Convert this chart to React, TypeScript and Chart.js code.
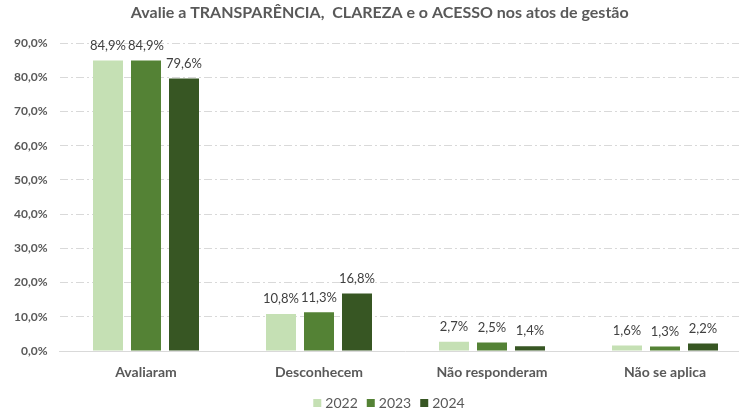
import React, { useEffect, useRef } from "react";
import { Chart, registerables } from "chart.js";

Chart.register(...registerables);

const categories = ["Avaliaram", "Desconhecem", "Não responderam", "Não se aplica"];
const years = ["2022", "2023", "2024"];
const values2022 = [84.9, 10.8, 2.7, 1.6];
const values2023 = [84.9, 11.3, 2.5, 1.3];
const values2024 = [79.6, 16.8, 1.4, 2.2];
const colors = ["#C5E0B4", "#548235", "#375623"];
const yTicks = [0, 10, 20, 30, 40, 50, 60, 70, 80, 90];
const titleText = "Avalie a TRANSPARÊNCIA,  CLAREZA e o ACESSO nos atos de gestão";

const FONT = "Lato, 'Open Sans', sans-serif";
const fmt = (v: number) => v.toFixed(1).replace(".", ",") + "%";

const dataLabels = {
  id: "dataLabels",
  afterDatasetsDraw(chart: any) {
    const ctx = chart.ctx;
    ctx.save();
    ctx.font = `13px ${FONT}`;
    ctx.fillStyle = "#404040";
    ctx.textAlign = "center";
    ctx.textBaseline = "middle";
    chart.data.datasets.forEach((ds: any, i: number) => {
      const meta = chart.getDatasetMeta(i);
      meta.data.forEach((bar: any, j: number) => {
        ctx.fillText(fmt(ds.data[j]), bar.x, bar.y - 15);
      });
    });
    ctx.restore();
  },
};

const customLegend = {
  id: "customLegend",
  afterDraw(chart: any) {
    const ctx = chart.ctx;
    ctx.save();
    ctx.font = `14px ${FONT}`;
    ctx.textBaseline = "middle";
    ctx.textAlign = "left";
    const box = 8;
    const gapBoxText = 4;
    const gapItems = 9;
    const widths = years.map((y) => box + gapBoxText + ctx.measureText(y).width);
    const total = widths.reduce((a, b) => a + b, 0) + gapItems * (years.length - 1);
    let x = 389 - total / 2;
    const yc = 403;
    years.forEach((y, i) => {
      ctx.fillStyle = colors[i];
      ctx.fillRect(x, yc - box / 2, box, box);
      ctx.fillStyle = "#595959";
      ctx.fillText(y, x + box + gapBoxText, yc);
      x += widths[i] + gapItems;
    });
    ctx.restore();
  },
};

export default function App() {
  const ref = useRef<HTMLCanvasElement | null>(null);
  useEffect(() => {
    if (!ref.current) return;
    const seriesValues = [values2022, values2023, values2024];
    const chart = new Chart(ref.current, {
      type: "bar",
      data: {
        labels: categories,
        datasets: years.map((y, i) => ({
          label: y,
          data: seriesValues[i],
          backgroundColor: colors[i],
          borderWidth: 0,
          categoryPercentage: 114 / 173,
          barPercentage: 30 / 38,
        })),
      },
      options: {
        responsive: false,
        animation: false,
        layout: { padding: { left: 8, right: 18.5, top: 0, bottom: 11 } },
        plugins: {
          legend: { display: false },
          tooltip: { enabled: false },
          title: {
            display: true,
            text: titleText,
            color: "#595959",
            font: { family: FONT, size: 16, weight: "bold" },
            padding: { top: 3, bottom: 20.8 },
          },
        },
        scales: {
          x: {
            grid: { display: false },
            border: { display: true, color: "#D9D9D9", width: 1 },
            ticks: {
              color: "#595959",
              font: { family: FONT, size: 14, weight: "bold" },
              padding: 5,
              maxRotation: 0,
            },
            afterFit: (s: any) => {
              s.height = 50;
            },
          },
          y: {
            min: 0,
            max: 90,
            afterBuildTicks: (s: any) => {
              s.ticks = yTicks.map((v) => ({ value: v }));
            },
            grid: {
              color: "#D9D9D9",
              drawTicks: false,
              lineWidth: 1,
            },
            border: { display: false, dash: [8, 3, 2, 3] },
            ticks: {
              color: "#595959",
              font: { family: FONT, size: 12, weight: "bold" },
              padding: 12,
              callback: (v: any) => fmt(Number(v)),
            },
            afterFit: (s: any) => {
              s.width = 51.5;
            },
          },
        },
      },
      plugins: [dataLabels, customLegend],
    });
    return () => chart.destroy();
  }, []);

  return (
    <div
      style={{
        position: "fixed",
        left: 0,
        top: 0,
        width: 739,
        height: 412,
        overflow: "hidden",
        background: "#fff",
      }}
    >
      <canvas ref={ref} width={770} height={412} style={{ display: "block" }} />
    </div>
  );
}
